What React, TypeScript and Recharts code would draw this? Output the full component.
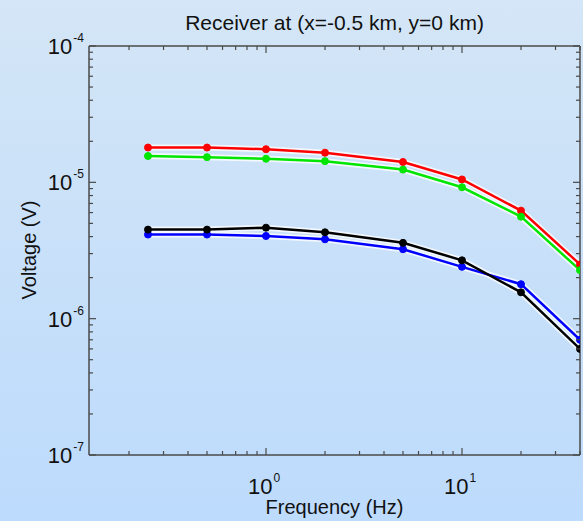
import { LineChart, Line, XAxis, YAxis } from 'recharts';

// values (log-log)
const FREQS = [0.25, 0.5, 1, 2, 5, 10, 20, 40];
const RED = [1.8e-5, 1.8e-5, 1.75e-5, 1.65e-5, 1.41e-5, 1.05e-5, 6.2e-6, 2.5e-6];
const GREEN = [1.56e-5, 1.53e-5, 1.49e-5, 1.43e-5, 1.24e-5, 9.2e-6, 5.6e-6, 2.27e-6];
const BLACK = [4.5e-6, 4.5e-6, 4.65e-6, 4.3e-6, 3.6e-6, 2.68e-6, 1.56e-6, 6.0e-7];
const BLUE = [4.14e-6, 4.14e-6, 4.04e-6, 3.82e-6, 3.23e-6, 2.4e-6, 1.79e-6, 7.0e-7];

const X_MAJOR = [0.1, 1, 10];
const Y_MAJOR = [1e-7, 1e-6, 1e-5, 1e-4];
const X_DOMAIN: [number, number] = [0.125, 40];
const Y_DOMAIN: [number, number] = [1e-7, 1e-4];

const TITLE = 'Receiver at (x=-0.5 km, y=0 km)';
const X_LABEL = 'Frequency (Hz)';
const Y_LABEL = 'Voltage (V)';

const SERIES = [
  { key: 'red', color: '#ff0000', values: RED },
  { key: 'green', color: '#00e600', values: GREEN },
  { key: 'blue', color: '#0000ff', values: BLUE },
  { key: 'black', color: '#000000', values: BLACK },
];

const data = FREQS.map((f, i) => {
  const row: Record<string, number> = { f };
  SERIES.forEach(s => { row[s.key] = s.values[i]; });
  return row;
});

// decade ticks plus 2..9 minors, clipped to the domain
const withMinors = (majors: number[], [lo, hi]: [number, number]) => {
  const out: number[] = [];
  majors.forEach(m => {
    for (let k = 1; k <= 9; k++) {
      const v = parseFloat((m * k).toPrecision(6));
      if (v >= lo * 0.999 && v <= hi * 1.001) out.push(v);
    }
  });
  return out;
};
const X_TICKS = withMinors(X_MAJOR, X_DOMAIN);
const Y_TICKS = withMinors(Y_MAJOR, Y_DOMAIN);

const isMajor = (v: number) => Math.abs(Math.log10(v) - Math.round(Math.log10(v))) < 1e-6;
const expOf = (v: number) => Math.round(Math.log10(v));

const AXIS = '#4a4a4a';
const FONT = '"Liberation Sans", Arial, sans-serif';

const Pow = ({ x, y, v, anchor }: { x: number; y: number; v: number; anchor: 'middle' | 'end' }) => (
  <text x={x} y={y} textAnchor={anchor} fontFamily={FONT} fill="#111">
    <tspan fontSize={22}>10</tspan>
    <tspan fontSize={12} dy={-12} dx={1}>{expOf(v)}</tspan>
  </text>
);

const BottomTick = ({ x, y, payload }: any) => {
  const major = isMajor(payload.value);
  return (
    <g>
      <line x1={x} x2={x} y1={y} y2={y - (major ? 7 : 4)} stroke={AXIS} strokeWidth={1.2} />
      {major && <Pow x={x - 2} y={y + 39} v={payload.value} anchor="middle" />}
    </g>
  );
};

const TopTick = ({ x, y, payload }: any) => {
  const major = isMajor(payload.value);
  return <line x1={x} x2={x} y1={y} y2={y + (major ? 7 : 4)} stroke={AXIS} strokeWidth={1.2} />;
};

const LeftTick = ({ x, y, payload }: any) => {
  const major = isMajor(payload.value);
  return (
    <g>
      <line x1={x} x2={x + (major ? 7 : 4)} y1={y} y2={y} stroke={AXIS} strokeWidth={1.2} />
      {major && <Pow x={x - 5} y={y + 8} v={payload.value} anchor="end" />}
    </g>
  );
};

const RightTick = ({ x, y, payload }: any) => {
  const major = isMajor(payload.value);
  return <line x1={x} x2={x - (major ? 7 : 4)} y1={y} y2={y} stroke={AXIS} strokeWidth={1.2} />;
};

export default function App() {
  return (
    <div
      style={{
        position: 'fixed',
        left: 0,
        top: 0,
        width: 583,
        height: 521,
        background: 'linear-gradient(180deg, #d4e6f7 0%, #c8e0f9 50%, #bddbfd 100%)',
        fontFamily: FONT,
      }}
    >
      <LineChart
        width={583}
        height={521}
        data={data}
        margin={{ top: 45, right: 2, left: 29, bottom: 36 }}
      >
        <XAxis
          dataKey="f"
          type="number"
          scale="log"
          domain={X_DOMAIN}
          allowDataOverflow
          ticks={X_TICKS}
          interval={0}
          tick={<BottomTick />}
          tickLine={false}
          tickSize={0}
          tickMargin={0}
          height={30}
          axisLine={{ stroke: AXIS, strokeWidth: 1.5 }}
        />
        <XAxis
          xAxisId="top"
          orientation="top"
          dataKey="f"
          type="number"
          scale="log"
          domain={X_DOMAIN}
          allowDataOverflow
          ticks={X_TICKS}
          interval={0}
          tick={<TopTick />}
          tickLine={false}
          tickSize={0}
          tickMargin={0}
          height={1}
          axisLine={{ stroke: AXIS, strokeWidth: 1.5 }}
        />
        <YAxis
          type="number"
          scale="log"
          domain={Y_DOMAIN}
          allowDataOverflow
          ticks={Y_TICKS}
          interval={0}
          tick={<LeftTick />}
          tickLine={false}
          tickSize={0}
          tickMargin={0}
          width={60}
          axisLine={{ stroke: AXIS, strokeWidth: 1.5 }}
        />
        <YAxis
          yAxisId="right"
          orientation="right"
          type="number"
          scale="log"
          domain={Y_DOMAIN}
          allowDataOverflow
          ticks={Y_TICKS}
          interval={0}
          tick={<RightTick />}
          tickLine={false}
          tickSize={0}
          tickMargin={0}
          width={1}
          axisLine={{ stroke: AXIS, strokeWidth: 1.5 }}
        />
        {SERIES.map(s => (
          <Line
            key={`halo-${s.key}`}
            dataKey={s.key}
            stroke="#ffffff"
            strokeOpacity={0.75}
            strokeWidth={6}
            dot={false}
            activeDot={false}
            isAnimationActive={false}
            legendType="none"
          />
        ))}
        {SERIES.map(s => (
          <Line
            key={s.key}
            dataKey={s.key}
            stroke={s.color}
            strokeWidth={2.5}
            dot={{ r: 3.5, fill: s.color, stroke: s.color, strokeWidth: 1 }}
            activeDot={false}
            isAnimationActive={false}
          />
        ))}
        <text x={334.5} y={30} textAnchor="middle" fontSize={21} fontFamily={FONT} fill="#111">
          {TITLE}
        </text>
        <text x={334.5} y={514} textAnchor="middle" fontSize={20} fontFamily={FONT} fill="#111">
          {X_LABEL}
        </text>
        <text
          x={36}
          y={250}
          textAnchor="middle"
          fontSize={20}
          fontFamily={FONT}
          fill="#111"
          transform="rotate(-90 36 250)"
        >
          {Y_LABEL}
        </text>
      </LineChart>
    </div>
  );
}
